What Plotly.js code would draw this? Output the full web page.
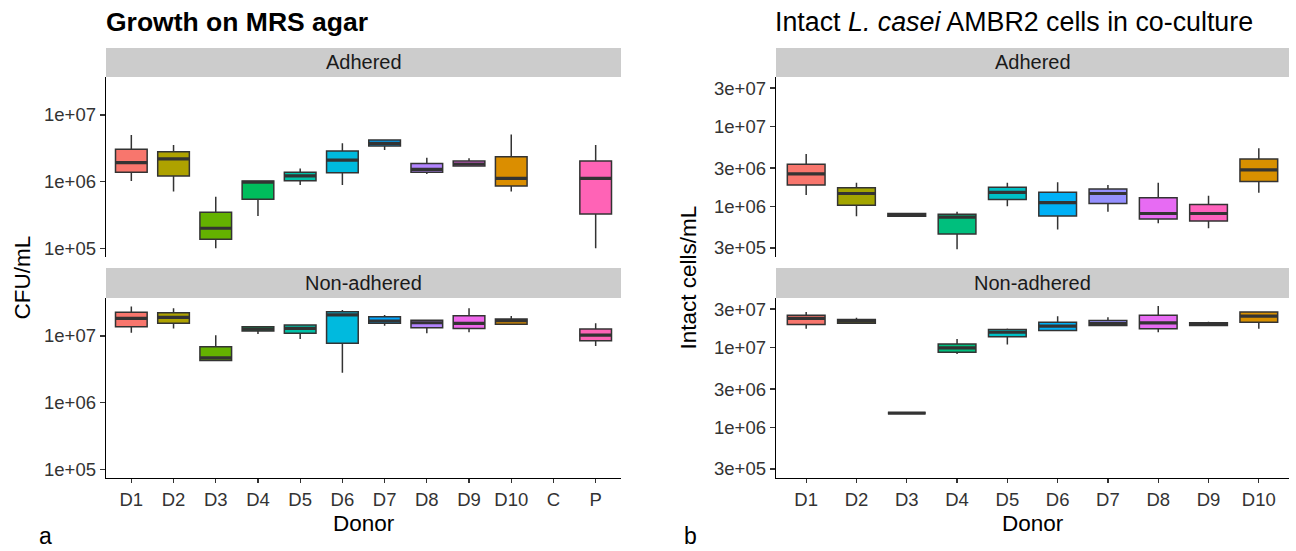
<!DOCTYPE html>
<html>
<head>
<meta charset="utf-8">
<script src="https://cdn.plot.ly/plotly-3.0.1.min.js"></script>
<style>html,body{margin:0;padding:0;background:#fff;}#chart{width:1296px;height:551px;}</style>
</head>
<body>
<div id="chart"></div>
<script>
// ---------- Panel a: Growth on MRS agar (CFU/mL) ----------
const categoriesA = ['D1','D2','D3','D4','D5','D6','D7','D8','D9','D10','C','P'];
const colorsA = ['#F8766D','#AEA200','#64B200','#00BD5C','#00C1A7','#00BADE','#00A6FF','#B385FF','#EF67EB','#DB8E00',null,'#FF63B6'];
// Adhered
const aAdhLow = [1.02e6, 7.1e5, 1.0e5, 3.06e5, 8.9e5, 8.9e5, 2.98e6, 1.30e6, 1.72e6, 7.1e5, null, 1.0e5];
const aAdhQ1  = [1.38e6, 1.22e6, 1.37e5, 5.45e5, 1.03e6, 1.36e6, 3.43e6, 1.38e6, 1.72e6, 8.6e5, null, 3.28e5];
const aAdhMed = [1.93e6, 2.19e6, 2.0e5, 9.8e5, 1.22e6, 2.11e6, 3.76e6, 1.53e6, 1.84e6, 1.12e6, null, 1.12e6];
const aAdhQ3  = [3.06e6, 2.82e6, 3.47e5, 1.02e6, 1.38e6, 2.88e6, 4.2e6, 1.88e6, 2.04e6, 2.37e6, null, 2.04e6];
const aAdhUp  = [5.0e6, 3.55e6, 5.96e5, 1.02e6, 1.58e6, 3.76e6, 4.2e6, 2.29e6, 2.24e6, 5.1e6, null, 3.55e6];
// Non-adhered
const aNonLow = [1.12e7, 1.30e7, 4.3e6, 1.07e7, 9.0e6, 2.82e6, 1.43e7, 1.10e7, 1.14e7, 1.5e7, null, 7.08e6];
const aNonQ1  = [1.38e7, 1.55e7, 4.3e6, 1.19e7, 1.10e7, 7.76e6, 1.55e7, 1.33e7, 1.30e7, 1.5e7, null, 8.5e6];
const aNonMed = [1.84e7, 1.9e7, 4.7e6, 1.27e7, 1.30e7, 2.07e7, 1.68e7, 1.58e7, 1.55e7, 1.70e7, null, 1.03e7];
const aNonQ3  = [2.27e7, 2.24e7, 6.9e6, 1.38e7, 1.46e7, 2.32e7, 1.95e7, 1.72e7, 2.02e7, 1.8e7, null, 1.27e7];
const aNonUp  = [2.76e7, 2.6e7, 1.03e7, 1.41e7, 1.5e7, 2.45e7, 2.07e7, 1.74e7, 2.6e7, 2.0e7, null, 1.55e7];
const ticksA = [1e5, 1e6, 1e7];
const tickTextA = ['1e+05','1e+06','1e+07'];

// ---------- Panel b: Intact L. casei AMBR2 cells (cells/mL) ----------
const categoriesB = ['D1','D2','D3','D4','D5','D6','D7','D8','D9','D10'];
const colorsB = ['#F8766D','#A3A500','#39B600','#00BF7D','#00BFC4','#00B0F6','#9590FF','#E76BF3','#FF62BC','#D89000'];
// Adhered
const bAdhLow = [1.38e6, 7.5e5, 7.5e5, 2.9e5, 1.0e6, 5.1e5, 8.5e5, 6.1e5, 5.3e5, 1.47e6];
const bAdhQ1  = [1.84e6, 1.03e6, 7.5e5, 4.5e5, 1.21e6, 7.55e5, 1.08e6, 6.9e5, 6.5e5, 2.03e6];
const bAdhMed = [2.53e6, 1.44e6, 7.8e5, 7.3e5, 1.49e6, 1.11e6, 1.44e6, 8.1e5, 8.1e5, 2.85e6];
const bAdhQ3  = [3.35e6, 1.70e6, 8.1e5, 7.9e5, 1.72e6, 1.49e6, 1.64e6, 1.27e6, 1.05e6, 3.9e6];
const bAdhUp  = [4.5e6, 1.97e6, 8.2e5, 8.5e5, 1.97e6, 1.99e6, 1.84e6, 1.97e6, 1.35e6, 5.3e6];
// Non-adhered
const bNonLow = [1.70e7, 2.0e7, 1.5e6, 8.25e6, 1.08e7, 1.62e7, 1.87e7, 1.54e7, 1.87e7, 1.70e7];
const bNonQ1  = [1.93e7, 2.0e7, 1.5e6, 8.65e6, 1.35e7, 1.62e7, 1.87e7, 1.70e7, 1.87e7, 2.06e7];
const bNonMed = [2.29e7, 2.12e7, 1.5e6, 9.8e6, 1.54e7, 1.84e7, 1.98e7, 2.02e7, 1.94e7, 2.45e7];
const bNonQ3  = [2.52e7, 2.22e7, 1.5e6, 1.10e7, 1.67e7, 2.06e7, 2.16e7, 2.52e7, 2.02e7, 2.75e7];
const bNonUp  = [2.75e7, 2.33e7, 1.5e6, 1.27e7, 1.71e7, 2.45e7, 2.38e7, 3.27e7, 2.08e7, 2.83e7];
const ticksB = [3e5, 1e6, 3e6, 1e7, 3e7];
const tickTextB = ['3e+05','1e+06','3e+06','1e+07','3e+07'];

// ---------- build traces ----------
const FONT = 'Liberation Sans, Arial, sans-serif';
const traces = [];
function addBoxes(cats, colors, low, q1, med, q3, up, xa, ya) {
  cats.forEach((c, i) => {
    if (med[i] === null) return;
    traces.push({
      type: 'box', x: [c], q1: [q1[i]], median: [med[i]], q3: [q3[i]],
      lowerfence: [low[i]], upperfence: [up[i]],
      xaxis: xa, yaxis: ya, width: 0.75, whiskerwidth: 0,
      fillcolor: colors[i], line: {color: '#333333', width: 1.5},
      boxpoints: false, hoverinfo: 'skip', showlegend: false
    });
    // thicker median bar (ggplot fatten)
    traces.push({
      type: 'box', x: [c], q1: [med[i]], median: [med[i]], q3: [med[i]],
      lowerfence: [med[i]], upperfence: [med[i]],
      xaxis: xa, yaxis: ya, width: 0.75, whiskerwidth: 0,
      fillcolor: 'rgba(0,0,0,0)', line: {color: '#333333', width: 3.2},
      boxpoints: false, hoverinfo: 'skip', showlegend: false
    });
  });
}
addBoxes(categoriesA, colorsA, aAdhLow, aAdhQ1, aAdhMed, aAdhQ3, aAdhUp, 'x2', 'y');
addBoxes(categoriesA, colorsA, aNonLow, aNonQ1, aNonMed, aNonQ3, aNonUp, 'x', 'y2');
addBoxes(categoriesB, colorsB, bAdhLow, bAdhQ1, bAdhMed, bAdhQ3, bAdhUp, 'x4', 'y3');
addBoxes(categoriesB, colorsB, bNonLow, bNonQ1, bNonMed, bNonQ3, bNonUp, 'x3', 'y4');

// ---------- layout ----------
const W = 1296, H = 551;
const px = v => v / W, py = v => 1 - v / H;
const domA = [px(106), px(621)], domB = [px(776), px(1289)];
const domTop = [py(257), py(77)], domBot = [py(478), py(298)];

function xAxis(dom, anchor, cats, show) {
  return {
    domain: dom, anchor: anchor, type: 'category',
    categoryorder: 'array', categoryarray: cats,
    range: [-0.6, cats.length - 0.4], fixedrange: true,
    showline: show, linecolor: '#000', linewidth: 1.3,
    ticks: show ? 'outside' : '', ticklen: 4, tickcolor: '#333', tickwidth: 1.3,
    showticklabels: show, showgrid: false, zeroline: false,
    tickfont: {family: FONT, size: 18.5, color: '#333'}
  };
}
function yAxis(dom, anchor, range, tv, tt) {
  return {
    domain: dom, anchor: anchor, type: 'log', range: range,
    tickvals: tv, ticktext: tt, fixedrange: true,
    showline: true, linecolor: '#000', linewidth: 1.3,
    ticks: 'outside', ticklen: 5, tickcolor: '#333', tickwidth: 1.3,
    showgrid: false, zeroline: false,
    tickfont: {family: FONT, size: 18.5, color: '#333'}
  };
}
const rangeA = [4.87, 7.57], rangeB = [5.364, 7.616];

const shapes = [];
const annotations = [];
function strip(dom, y0px, y1px, label) {
  shapes.push({type: 'rect', xref: 'paper', yref: 'paper', x0: dom[0], x1: dom[1],
    y0: py(y1px), y1: py(y0px), fillcolor: '#cccccc', line: {width: 0}, layer: 'below'});
  annotations.push({xref: 'paper', yref: 'paper', x: (dom[0] + dom[1]) / 2, y: py((y0px + y1px) / 2),
    text: label, showarrow: false, xanchor: 'center', yanchor: 'middle',
    font: {family: FONT, size: 20, color: '#1a1a1a'}});
}
strip(domA, 48, 77, 'Adhered');
strip(domA, 268, 298, 'Non-adhered');
strip(domB, 48, 77, 'Adhered');
strip(domB, 268, 298, 'Non-adhered');

function txt(xpx, ypx, text, size, opts) {
  annotations.push(Object.assign({xref: 'paper', yref: 'paper', x: px(xpx), y: py(ypx), text: text,
    showarrow: false, xanchor: 'center', yanchor: 'middle',
    font: {family: FONT, size: size, color: '#000'}}, opts || {}));
}
txt(104, 22, '<b>Growth on MRS agar</b>', 26.5, {xanchor: 'left'});
txt(773, 22, 'Intact <i>L. casei</i> AMBR2 cells in co-culture', 26.8, {xanchor: 'left'});
txt(363.5, 523, 'Donor', 22.5);
txt(1032.5, 523, 'Donor', 22.5);
txt(22, 277.5, 'CFU/mL', 22.5, {textangle: -90});
txt(688, 277.5, 'Intact cells/mL', 22.5, {textangle: -90});
txt(45, 536, 'a', 23);
txt(690, 536, 'b', 23);

const layout = {
  width: W, height: H, margin: {l: 0, r: 0, t: 0, b: 0},
  paper_bgcolor: '#fff', plot_bgcolor: '#fff', showlegend: false, boxmode: 'overlay',
  xaxis: xAxis(domA, 'y2', categoriesA, true),
  xaxis2: xAxis(domA, 'y', categoriesA, false),
  xaxis3: xAxis(domB, 'y4', categoriesB, true),
  xaxis4: xAxis(domB, 'y3', categoriesB, false),
  yaxis: yAxis(domTop, 'x2', rangeA, ticksA, tickTextA),
  yaxis2: yAxis(domBot, 'x', rangeA, ticksA, tickTextA),
  yaxis3: yAxis(domTop, 'x4', rangeB, ticksB, tickTextB),
  yaxis4: yAxis(domBot, 'x3', rangeB, ticksB, tickTextB),
  shapes: shapes, annotations: annotations
};
Plotly.newPlot('chart', traces, layout, {displayModeBar: false, staticPlot: true});
</script>
</body>
</html>
